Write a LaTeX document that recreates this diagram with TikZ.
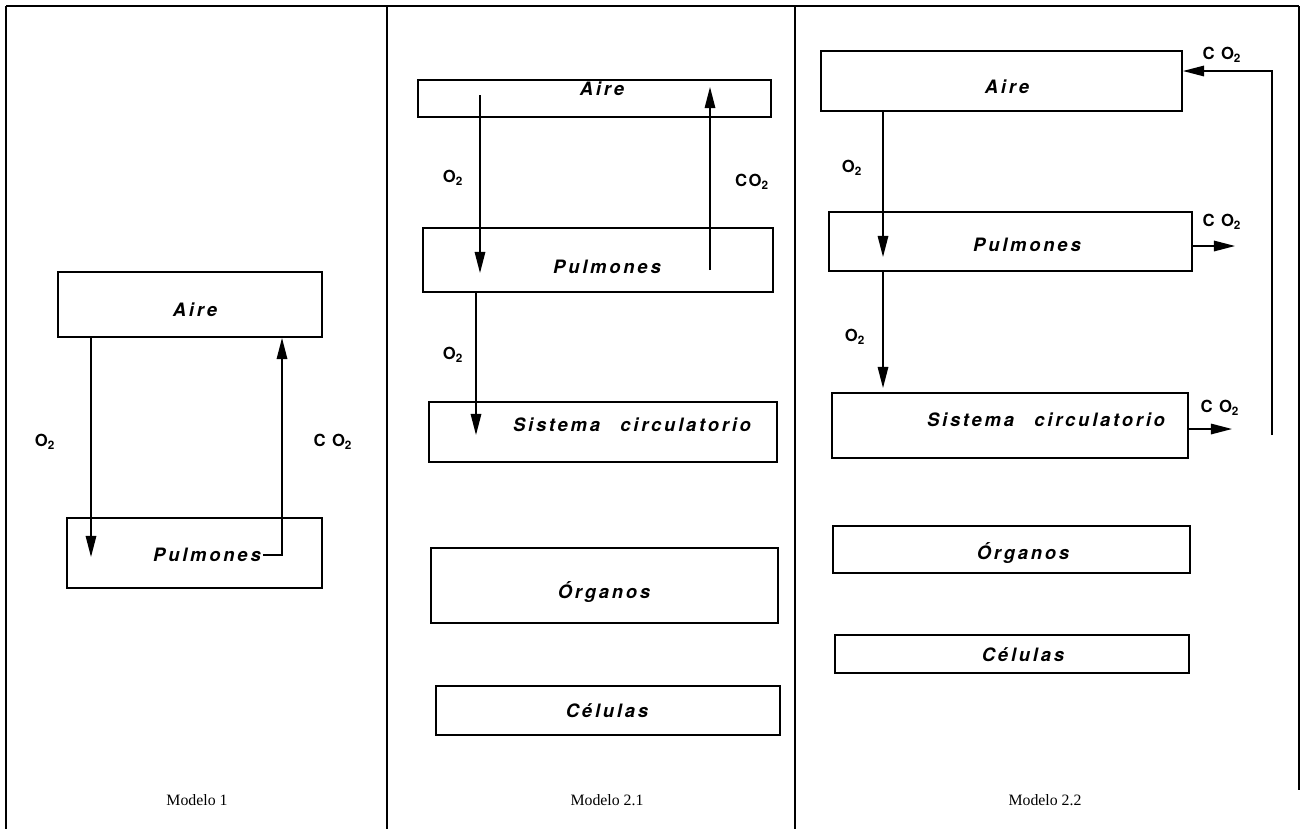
\documentclass[tikz,border=0pt]{standalone}
\usepackage{fontspec}
\setmainfont{Liberation Serif}
\setsansfont{TeX Gyre Heros}
\newfontfamily\cajafont[LetterSpace=15]{TeX Gyre Heros}
\newfontfamily\gasfont[LetterSpace=10]{TeX Gyre Heros}
\usetikzlibrary{arrows.meta,fit}
\begin{document}
\begin{tikzpicture}[x=0.02cm,y=-0.02cm,
	caja/.style={draw,line width=1.1pt,inner sep=0pt},
	txt/.style={inner sep=1pt,font=\cajafont\fontsize{10.5}{12}\selectfont\bfseries\itshape},
	gas/.style={inner sep=0pt,font=\gasfont\bfseries\fontsize{9.5}{11}\selectfont},
	pie/.style={font=\fontsize{9}{10}\selectfont},
	flecha/.style={line width=0.8pt,-{Triangle[length=12pt,width=6pt]}},
	marco/.style={line width=1pt}]
	\useasboundingbox (0,0) rectangle (1306,829);
	\draw [marco] (6,6) -- (1299,6);
	\draw [marco] (6,6) -- (6,829);
	\draw [marco] (387,6) -- (387,829);
	\draw [marco] (795,6) -- (795,829);
	\draw [marco] (1299,6) -- (1299,790);
	\node [caja,fit={(58,272) (322,337)}] (aire1) {};
	\node [txt] (taire1) at (195,310) {Aire};
	\node [caja,fit={(67,518) (322,588)}] (pulm1) {};
	\node [txt] (tpulm1) at (207,555) {Pulmones};
	\coordinate (o2a) at (91,557);
	\draw [flecha] (aire1.south -| o2a) -- (o2a);
	\coordinate (co2a) at (282,555);
	\draw [flecha] (tpulm1.east) -- (co2a) -- (co2a |- aire1.south);
	\node [gas] (lo2a) at (45,442) {O\textsubscript{2}};
	\node [gas] (lco2a) at (333,442) {C O\textsubscript{2}};
	\node [pie] (m1) at (197,800) {Modelo 1};
	\node [caja,fit={(418,80) (771,117)}] (aire2) {};
	\node [txt] (taire2) at (602,89) {Aire};
	\node [caja,fit={(423,228) (773,292)}] (pulm2) {};
	\node [txt] (tpulm2) at (607,267) {Pulmones};
	\node [caja,fit={(429,402) (777,462)}] (sist2) {};
	\node [txt] (tsist2) at (632,425) {Sistema\hspace{1.1em}circulatorio};
	\node [caja,fit={(431,548) (778,623)}] (org2) {};
	\node [txt] (torg2) at (604,592) {Órganos};
	\node [caja,fit={(436,686) (780,735)}] (cel2) {};
	\node [txt] (tcel2) at (607,711) {Células};
	\coordinate (o2b1) at (480,95);
	\coordinate (o2b2) at (480,273);
	\draw [flecha] (o2b1) -- (o2b2);
	\coordinate (co2b1) at (710,270);
	\coordinate (co2b2) at (710,87);
	\draw [flecha] (co2b1) -- (co2b2);
	\coordinate (o2c) at (476,435);
	\draw [flecha] (pulm2.south -| o2c) -- (o2c);
	\node [gas] (lo2b) at (453,178) {O\textsubscript{2}};
	\node [gas] (lco2b) at (752,182) {CO\textsubscript{2}};
	\node [gas] (lo2c) at (453,355) {O\textsubscript{2}};
	\node [pie] (m2) at (607,800) {Modelo 2.1};
	\node [caja,fit={(821,51) (1182,111)}] (aire3) {};
	\node [txt] (taire3) at (1007,87) {Aire};
	\node [caja,fit={(829,212) (1192,271)}] (pulm3) {};
	\node [txt] (tpulm3) at (1027,245) {Pulmones};
	\node [caja,fit={(832,393) (1188,458)}] (sist3) {};
	\node [txt] (tsist3) at (1046,420) {Sistema\hspace{1.1em}circulatorio};
	\node [caja,fit={(833,526) (1190,573)}] (org3) {};
	\node [txt] (torg3) at (1023,553) {Órganos};
	\node [caja,fit={(835,635) (1189,673)}] (cel3) {};
	\node [txt] (tcel3) at (1023,655) {Células};
	\coordinate (o2d) at (883,257);
	\draw [flecha] (aire3.south -| o2d) -- (o2d);
	\coordinate (o2e) at (883,388);
	\draw [flecha] (pulm3.south -| o2e) -- (o2e);
	\coordinate (ret0) at (1272,435);
	\coordinate (ret1) at (1272,71);
	\draw [flecha] (ret0) -- (ret1) -- (aire3.east |- ret1);
	\coordinate (out1) at (1235,246);
	\draw [flecha] (pulm3.east |- out1) -- (out1);
	\coordinate (out2) at (1232,429);
	\draw [flecha] (sist3.east |- out2) -- (out2);
	\node [gas] (lo2d) at (852,168) {O\textsubscript{2}};
	\node [gas] (lo2e) at (855,337) {O\textsubscript{2}};
	\node [gas] (lco2c) at (1222,55) {C O\textsubscript{2}};
	\node [gas] (lco2d) at (1222,222) {C O\textsubscript{2}};
	\node [gas] (lco2e) at (1220,408) {C O\textsubscript{2}};
	\node [pie] (m3) at (1045,800) {Modelo 2.2};
\end{tikzpicture}
\end{document}
